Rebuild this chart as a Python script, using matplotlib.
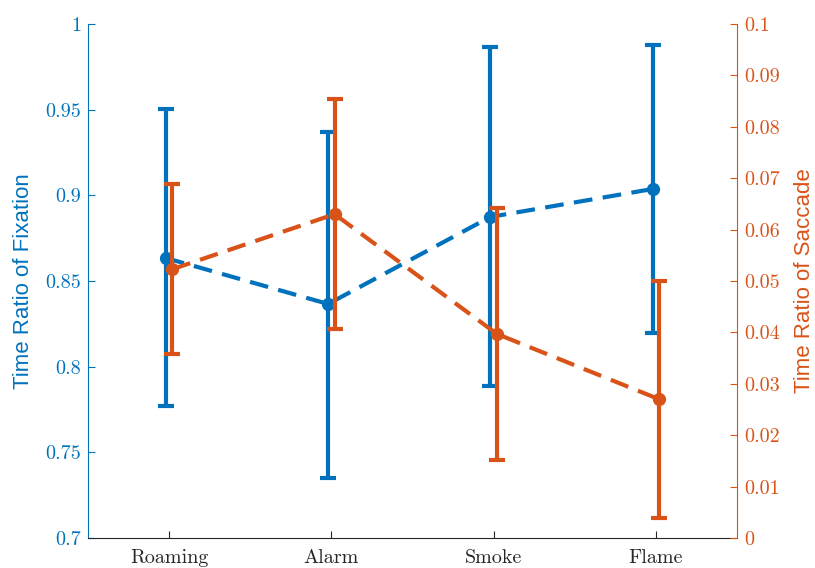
import matplotlib.pyplot as plt
import numpy as np

categories = ['Roaming', 'Alarm', 'Smoke', 'Flame']

# fixation time ratio (left axis): mean, upper and lower bar ends
fix_mean = [0.8634, 0.8366, 0.8874, 0.9037]
fix_top = [0.9504, 0.9370, 0.9866, 0.9877]
fix_bot = [0.7770, 0.7350, 0.7887, 0.8197]

# saccade time ratio (right axis)
sac_mean = [0.0523, 0.0630, 0.0397, 0.0270]
sac_top = [0.0689, 0.0854, 0.0642, 0.0500]
sac_bot = [0.0358, 0.0407, 0.0152, 0.0039]

blue = '#0072BD'
orange = '#D95319'

x = np.arange(1, len(categories) + 1)

fig = plt.figure(figsize=(8.15, 5.68), dpi=100)
ax = fig.add_axes([88 / 815, 30 / 568, 649 / 815, 514 / 568])
ax2 = ax.twinx()

fm = np.array(fix_mean)
ax.errorbar(x - 0.02, fm, yerr=[fm - np.array(fix_bot), np.array(fix_top) - fm],
            color=blue, lw=3, ls='--', marker='o', ms=8.5, capsize=6, capthick=3,
            dashes=(4.5, 2.5))
sm = np.array(sac_mean)
ax2.errorbar(x + 0.02, sm, yerr=[sm - np.array(sac_bot), np.array(sac_top) - sm],
             color=orange, lw=3, ls='--', marker='o', ms=8.5, capsize=6, capthick=3,
             dashes=(4.5, 2.5))

ax.set_xlim(0.5, 4.5)
ax.set_ylim(0.7, 1.0)
ax2.set_ylim(0, 0.1)
ax.set_xticks(x)
ax.set_xticklabels(categories)
ax.set_yticks(np.arange(0.7, 1.001, 0.05))
ax.set_yticklabels(['0.7', '0.75', '0.8', '0.85', '0.9', '0.95', '1'])
ax2.set_yticks(np.arange(0, 0.1001, 0.01))
ax2.set_yticklabels(['0'] + ['%.2f' % v for v in np.arange(0.01, 0.0951, 0.01)] + ['0.1'])

for a in (ax, ax2):
    a.spines['top'].set_visible(False)
ax.spines['right'].set_visible(False)
ax2.spines['left'].set_visible(False)
ax2.spines['bottom'].set_visible(False)
ax.spines['left'].set_color(blue)
ax2.spines['right'].set_color(orange)
ax.spines['bottom'].set_color('#262626')

ax.tick_params(axis='y', direction='in', colors=blue, labelsize=14.5, length=5, pad=5)
ax.tick_params(axis='x', direction='in', colors='#262626', labelsize=14.5, length=5, pad=8)
ax2.tick_params(axis='y', direction='in', colors=orange, labelsize=14.5, length=5, pad=5)
for lab in ax.get_xticklabels() + ax.get_yticklabels() + ax2.get_yticklabels():
    lab.set_fontfamily('cmr10')

ax.set_ylabel('Time Ratio of Fixation', color=blue, fontsize=16,
              fontfamily='Liberation Sans', labelpad=8)
ax2.set_ylabel('Time Ratio of Saccade', color=orange, fontsize=16,
               fontfamily='Liberation Sans', labelpad=10)

fig.savefig('out.png', dpi=100)
